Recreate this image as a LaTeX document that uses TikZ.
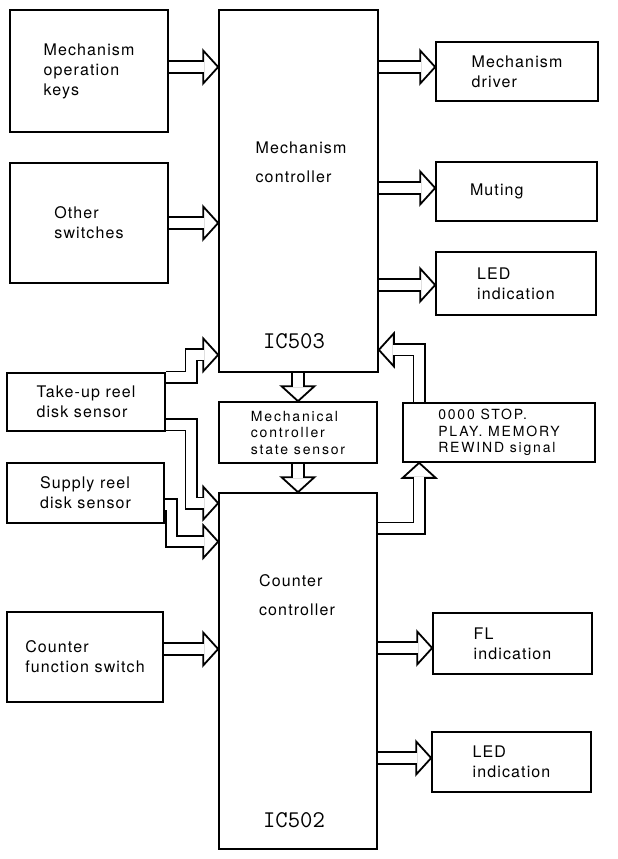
\documentclass[tikz,border=0pt]{standalone}
\usepackage{fontspec}
\setmainfont{TeX Gyre Heros}[LetterSpace=7]
\newfontfamily\smallfont{TeX Gyre Heros}[LetterSpace=13]
\usetikzlibrary{calc,backgrounds}
\tikzset{
  blk/.style={draw, line width=1.7pt, inner sep=0pt, align=left, font=\fontsize{16}{20}\selectfont},
  sblk/.style={blk, font=\smallfont\fontsize{14}{16.5}\selectfont},
  ictext/.style={font=\ttfamily\fontsize{24}{24}\selectfont},
  bus/.style={double, double distance=9.5pt, line width=1.8pt, line join=miter},
  bushead/.pic={\draw[fill=white, line width=1.8pt, line join=miter] (0,0) -- (-15,16.5) -- (-15,-16.5) -- cycle;}
}
\begin{document}
\begin{tikzpicture}[x=1pt, y=-1pt]
\useasboundingbox (0,0) rectangle (618,859);
\node[blk, minimum width=158, minimum height=122] (keys) at (89,71) {Mechanism\\operation\\keys};
\node[blk, minimum width=158, minimum height=120] (switches) at (89,223) {Other\\switches};
\node[blk, minimum width=159, minimum height=362] (mechctrl) at (298.5,191) {};
\node[font=\fontsize{16}{20}\selectfont, align=left] (mechtxt) at (301,162) {Mechanism\\[9pt]controller};
\node[ictext] (ic503) at (294,341) {IC503};
\node[blk, minimum width=162, minimum height=59] (driver) at (517,71.5) {Mechanism\\driver};
\node[blk, minimum width=161, minimum height=59, text width=93] (muting) at (516.5,191.5) {Muting};
\node[blk, minimum width=160, minimum height=63] (led1) at (516,283.5) {LED\\indication};
\node[blk, minimum width=158, minimum height=58] (takeup) at (86,402) {Take-up reel\\disk sensor};
\node[blk, minimum width=157, minimum height=60] (supply) at (85.5,493) {Supply reel\\disk sensor};
\node[sblk, minimum width=158, minimum height=61] (midbox) at (298,432.5) {Mechanical\\controller\\state sensor};
\node[sblk, minimum width=192, minimum height=59] (signal) at (499,432.5) {0000 STOP.\\PLAY. MEMORY\\REWIND signal};
\node[blk, minimum width=156, minimum height=90] (counterfn) at (85,657) {Counter\\function switch};
\node[blk, minimum width=158, minimum height=356] (counterctrl) at (298,671) {};
\node[font=\fontsize{16}{20}\selectfont, align=left] (countertxt) at (297,595) {Counter\\[9pt]controller};
\node[ictext] (ic502) at (294,820) {IC502};
\node[blk, minimum width=159, minimum height=61] (fl) at (512.5,643.5) {FL\\indication};
\node[blk, minimum width=159, minimum height=60] (led2) at (511.5,762) {LED\\indication};
\begin{scope}[on background layer]
\pic at ($(keys.east -| mechctrl.west)+(0,-4)$) {bushead};
\draw[bus] ($(keys.east)+(0,-4)$) -- ($(keys.east -| mechctrl.west)+(-14,-4)$);
\pic at (switches.east -| mechctrl.west) {bushead};
\draw[bus] (switches.east) -- ($(switches.east -| mechctrl.west)+(-14,0)$);
\pic at ($(driver.west)+(0,-4.5)$) {bushead};
\draw[bus] ($(driver.west -| mechctrl.east)+(0,-4.5)$) -- ($(driver.west)+(-14,-4.5)$);
\pic at ($(muting.west)+(0,-3.5)$) {bushead};
\draw[bus] ($(muting.west -| mechctrl.east)+(0,-3.5)$) -- ($(muting.west)+(-14,-3.5)$);
\pic at ($(led1.west)+(0,1.5)$) {bushead};
\draw[bus] ($(led1.west -| mechctrl.east)+(0,1.5)$) -- ($(led1.west)+(-14,1.5)$);
\pic[rotate=-90] at (midbox.north) {bushead};
\draw[bus] (midbox.north |- mechctrl.south) -- ($(midbox.north)+(0,-14)$);
\pic[rotate=-90] at (midbox.south |- counterctrl.north) {bushead};
\draw[bus] (midbox.south) -- ($(midbox.south |- counterctrl.north)+(0,-14)$);
\pic[rotate=180] at ($(mechctrl.south east)+(0,-23)$) {bushead};
\draw[bus] ($(signal.north west)+(17,0)$) |- ($(mechctrl.south east)+(14,-23)$);
\pic[rotate=90] at ($(signal.south west)+(17,0)$) {bushead};
\draw[bus] ($(counterctrl.north east)+(0,36)$) -| ($(signal.south west)+(17,14)$);
\pic at ($(mechctrl.south west)+(0,-18)$) {bushead};
\draw[bus] ($(takeup.north east)+(0,5)$) -| ($(mechctrl.south west)+(-27,-18)$) -- ($(mechctrl.south west)+(-14,-18)$);
\pic at ($(counterctrl.north west)+(0,11)$) {bushead};
\draw[bus] ($(takeup.south east)+(0,-7)$) -| ($(counterctrl.north west)+(-27,11)$) -- ($(counterctrl.north west)+(-14,11)$);
\pic at ($(counterctrl.north west)+(0,49.5)$) {bushead};
\draw[bus] ($(supply.east)+(0,12)$) -| ($(counterctrl.north west)+(-46.5,49.5)$) -- ($(counterctrl.north west)+(-14,49.5)$);
\pic at ($(counterfn.east -| counterctrl.west)+(0,-8)$) {bushead};
\draw[bus] ($(counterfn.east)+(0,-8)$) -- ($(counterfn.east -| counterctrl.west)+(-14,-8)$);
\pic at ($(fl.west)+(0,4.5)$) {bushead};
\draw[bus] ($(fl.west -| counterctrl.east)+(0,4.5)$) -- ($(fl.west)+(-14,4.5)$);
\pic at ($(led2.west)+(0,-4)$) {bushead};
\draw[bus] ($(led2.west -| counterctrl.east)+(0,-4)$) -- ($(led2.west)+(-14,-4)$);
\end{scope}
\end{tikzpicture}
\end{document}
